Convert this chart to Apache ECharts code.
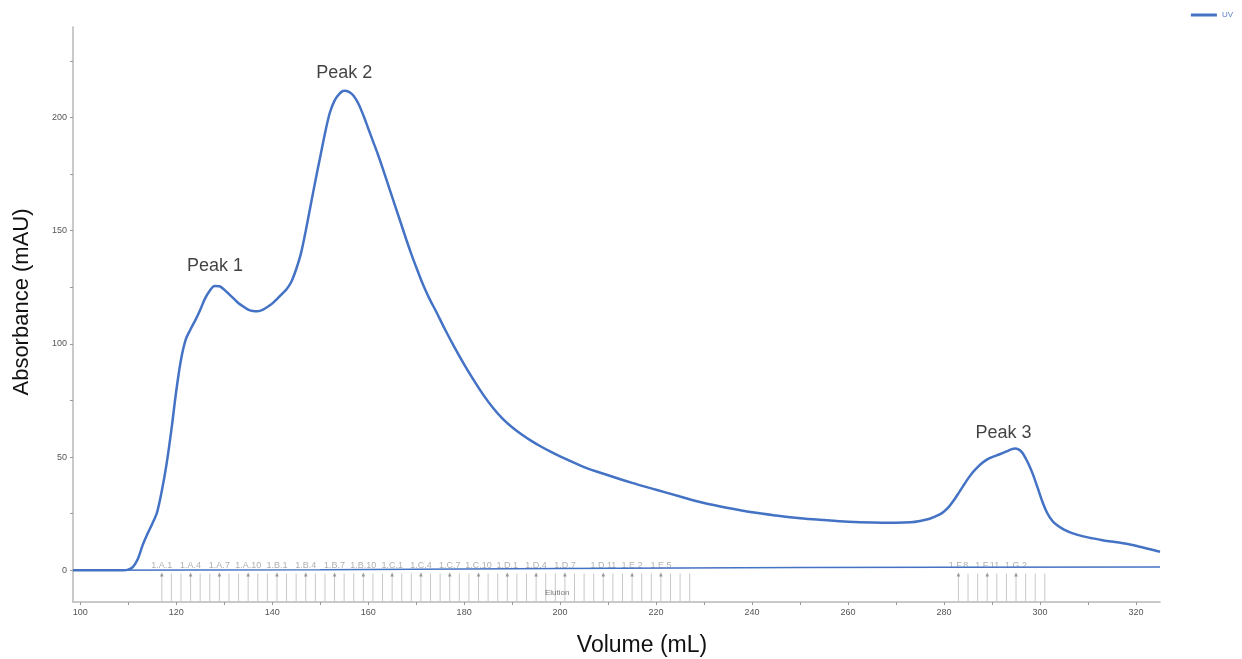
<!DOCTYPE html>
<html>
<head>
<meta charset="utf-8">
<script src="https://cdn.jsdelivr.net/npm/echarts@6/dist/echarts.min.js"></script>
<style>
  html, body { margin: 0; padding: 0; background: #fff; }
  #chart { width: 1242px; height: 659px; }
</style>
</head>
<body>
<div id="chart"></div>
<script>
// UV trace (mL, mAU)
const volume = [98.5, 105, 109, 110, 111, 112, 113, 114, 115, 116, 117, 118, 119, 120, 121, 122, 123, 124, 125, 126, 127, 128, 129, 130,
  131, 132, 133, 134, 135, 136, 137, 138, 139, 140, 141, 142, 143, 144, 145, 146, 147, 148, 149, 150, 151, 152, 153, 154, 155, 156,
  157, 158, 159, 160, 161, 162, 163, 164, 165, 166, 167, 168, 169, 170, 171, 172, 173, 174, 176, 178, 180, 182, 184, 186, 188, 190, 192,
  194, 196, 198, 200, 205, 210, 215, 220, 225, 230, 235, 240, 245, 250, 255, 260, 265, 270, 273, 275, 277, 279, 280, 281, 282, 283, 284,
  285, 286, 287, 288, 289, 290, 291, 292, 293, 294, 294.8, 295.5, 296.3, 297, 297.7, 298.5, 299.5, 300.5, 301.5, 302.5, 303.5, 305,
  307, 309, 311, 313, 315, 317, 319, 321, 323, 325];
const uv = [0, 0, 0, 0.3, 1.5, 5, 11, 16, 20.5, 25.5, 35, 47, 62, 79, 93, 102, 106.5, 110.5, 115, 120, 123.5, 125.6, 125.5, 124,
  122, 120, 118, 116.5, 115.2, 114.5, 114.4, 115, 116.3, 117.8, 119.8, 122, 124.2, 127.5, 133, 140, 150, 161, 172, 182.5, 193, 202, 207.5, 210.5, 211.8, 211.3,
  209.5, 206, 201, 195.3, 189.6, 183.9, 177.8, 171.4, 165, 158.6, 152.2, 145.8, 139.7, 134, 128.5, 123.5, 119, 115, 106.5, 98.5, 91, 84, 77.5, 71.8, 67, 63.2, 60,
  57.2, 54.7, 52.4, 50.3, 45.6, 42, 38.6, 35.6, 32.6, 29.7, 27.5, 25.6, 24.2, 23, 22.2, 21.5, 21.1, 21, 21.2, 21.8, 22.8, 24.6, 26, 28, 30.8, 34, 37.3,
  40.5, 43.3, 45.6, 47.5, 49, 50, 50.8, 51.6, 52.5, 53.4, 53.8, 53.4, 52, 49.5, 46.5, 42.5, 36.5, 30.3, 25.3, 22, 20, 18,
  16.2, 15, 14.1, 13.3, 12.7, 12.1, 11.3, 10.3, 9.3, 8.2];

// thin baseline trace
const baseVolume = [98.5, 150, 200, 250, 280, 325];
const baseValue = [0, 0.3, 0.8, 1.2, 1.4, 1.5];

// fractions (mL)
const fractionVolumes = [117, 119, 121, 123, 125, 127, 129, 131, 133, 135, 137, 139, 141, 143, 145, 147, 149, 151, 153, 155, 157, 159,
  161, 163, 165, 167, 169, 171, 173, 175, 177, 179, 181, 183, 185, 187, 189, 191, 193, 195, 197, 199, 201, 203, 205, 207, 209, 211,
  213, 215, 217, 219, 221, 223, 225, 227, 283, 285, 287, 289, 291, 293, 295, 297, 299, 301];
const fractionLabelVolumes = [117, 123, 129, 135, 141, 147, 153, 159, 165, 171, 177, 183, 189, 195, 201, 209, 215, 221, 283, 289, 295];
const fractionLabelNames = ['1.A.1', '1.A.4', '1.A.7', '1.A.10', '1.B.1', '1.B.4', '1.B.7', '1.B.10', '1.C.1', '1.C.4', '1.C.7',
  '1.C.10', '1.D.1', '1.D.4', '1.D.7', '1.D.11', '1.E.2', '1.E.5', '1.F.8', '1.F.11', '1.G.2'];

// annotations
const peakNames = ['Peak 1', 'Peak 2', 'Peak 3'];
const peakX = [128.1, 155, 292.4];
const peakY = [134.2, 219.8, 60.7];
const eventNames = ['Elution'];
const eventX = [199.4];
const eventY = [-9.8];

const xTicks = [100, 110, 120, 130, 140, 150, 160, 170, 180, 190, 200, 210, 220, 230, 240, 250, 260, 270, 280, 290, 300, 310, 320];
const xLabels = [100, 120, 140, 160, 180, 200, 220, 240, 260, 280, 300, 320];
const yTicks = [0, 25, 50, 75, 100, 125, 150, 175, 200, 225];
const yLabels = [0, 50, 100, 150, 200];

const Y_MIN = -14, Y_MAX = 240;
const blue = '#4472c4';
const font = '"Liberation Sans", Arial, sans-serif';

const chart = echarts.init(document.getElementById('chart'));

const fractionData = fractionVolumes.map(v => {
  const idx = fractionLabelVolumes.indexOf(v);
  return [v, -1, idx >= 0 ? fractionLabelNames[idx] : ''];
});

const option = {
  animation: false,
  backgroundColor: '#fff',
  grid: { left: 73, right: 82, top: 27, bottom: 57 },
  legend: {
    data: ['UV'],
    right: 4,
    top: 6,
    icon: 'rect',
    itemWidth: 26,
    itemHeight: 3,
    itemGap: 4,
    textStyle: { fontSize: 8, color: '#5a7fc0', fontFamily: font }
  },
  xAxis: {
    type: 'value',
    min: 98.5,
    max: 325,
    splitLine: { show: false },
    axisLine: { onZero: false, lineStyle: { color: '#b8b8b8', width: 1.5 } },
    axisTick: { customValues: xTicks, length: 3, lineStyle: { color: '#999' } },
    axisLabel: { customValues: xLabels, fontSize: 9, color: '#555', margin: 6, fontFamily: font }
  },
  yAxis: {
    type: 'value',
    min: Y_MIN,
    max: Y_MAX,
    splitLine: { show: false },
    axisLine: { show: true, onZero: false, lineStyle: { color: '#b8b8b8', width: 1.5 } },
    axisTick: { show: true, customValues: yTicks, length: 3, lineStyle: { color: '#999' } },
    axisLabel: { customValues: yLabels, fontSize: 9, color: '#555', margin: 6, fontFamily: font }
  },
  graphic: [
    {
      type: 'text', x: 22, y: 302, rotation: Math.PI / 2,
      style: { text: 'Absorbance (mAU)', fill: '#111', font: '22px ' + font, align: 'center', verticalAlign: 'middle' }
    },
    {
      type: 'text', x: 642, y: 646,
      style: { text: 'Volume (mL)', fill: '#111', font: '23px ' + font, align: 'center', verticalAlign: 'middle' }
    }
  ],
  series: [
    {
      name: 'UV baseline',
      type: 'line',
      data: baseVolume.map((v, i) => [v, baseValue[i]]),
      showSymbol: false,
      lineStyle: { color: blue, width: 1.5 },
      z: 2
    },
    {
      name: 'UV',
      type: 'line',
      data: volume.map((v, i) => [v, uv[i]]),
      smooth: 0.3,
      showSymbol: false,
      color: blue,
      lineStyle: { color: blue, width: 2.5 },
      z: 3
    },
    {
      name: 'Fractions',
      type: 'custom',
      data: fractionData,
      encode: { x: 0, y: 1 },
      z: 1,
      renderItem: function (params, api) {
        const v = api.value(0);
        const top = api.coord([v, -1]);
        const bottom = api.coord([v, Y_MIN]);
        const label = fractionData[params.dataIndex][2];
        const children = [{
          type: 'line',
          shape: { x1: top[0], y1: top[1] + 1, x2: bottom[0], y2: bottom[1] },
          style: { stroke: '#c8c8c8', lineWidth: 1 }
        }];
        if (label) {
          children.push({
            type: 'polygon',
            shape: { points: [[top[0] - 1.8, top[1] + 4], [top[0] + 1.8, top[1] + 4], [top[0], top[1]]] },
            style: { fill: '#999' }
          });
          children.push({
            type: 'text',
            style: {
              text: label, x: top[0], y: top[1] - 7,
              fill: '#b0b0b0', font: '9px ' + font, align: 'center', verticalAlign: 'middle'
            }
          });
        }
        return { type: 'group', children: children };
      }
    },
    {
      name: 'Peaks',
      type: 'scatter',
      data: peakX.map((v, i) => [v, peakY[i], peakNames[i]]),
      symbolSize: 0,
      z: 4,
      label: {
        show: true,
        position: 'inside',
        formatter: p => p.data[2],
        fontSize: 18,
        color: '#111',
        fontFamily: font
      }
    },
    {
      name: 'Events',
      type: 'scatter',
      data: eventX.map((v, i) => [v, eventY[i], eventNames[i]]),
      symbolSize: 0,
      z: 4,
      label: {
        show: true,
        position: 'inside',
        formatter: p => p.data[2],
        fontSize: 8,
        color: '#555',
        fontFamily: font
      }
    }
  ]
};

chart.setOption(option);
</script>
</body>
</html>
